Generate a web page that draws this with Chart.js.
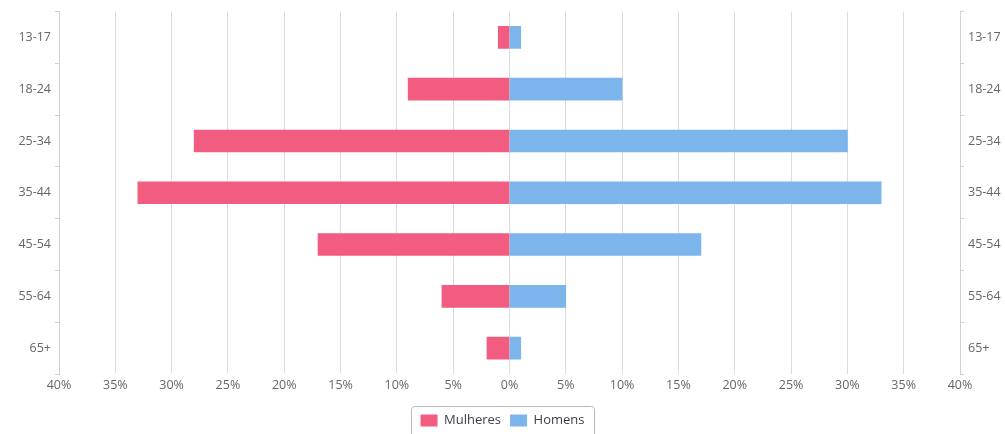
<!DOCTYPE html>
<html>
<head>
<meta charset="utf-8">
<script src="https://cdn.jsdelivr.net/npm/chart.js@4/dist/chart.umd.min.js"></script>
<style>
html,body{margin:0;padding:0;background:#fff;}
#wrap{width:1005px;height:434px;position:relative;}
</style>
</head>
<body>
<div id="wrap"><canvas id="c"></canvas></div>
<script>
const categories = ['13-17','18-24','25-34','35-44','45-54','55-64','65+'];
const mulheres = [1, 9, 28, 33, 17, 6, 2];
const homens = [1, 10, 30, 33, 17, 5, 1];
const xTicks = [-40,-35,-30,-25,-20,-15,-10,-5,0,5,10,15,20,25,30,35,40];

const FONT = {family: "'Open Sans', 'DejaVu Sans', sans-serif", size: 12.5};

const legendBorder = {
  id: 'legendBorder',
  afterDraw(chart) {
    const boxes = chart.legend && chart.legend.legendHitBoxes;
    if (!boxes || !boxes.length) return;
    let l = Infinity, r = -Infinity, t = Infinity, b = -Infinity;
    boxes.forEach(h => { l = Math.min(l, h.left); r = Math.max(r, h.left + h.width); t = Math.min(t, h.top); b = Math.max(b, h.top + h.height); });
    const ctx = chart.ctx;
    ctx.save();
    ctx.strokeStyle = '#b8b8b8';
    ctx.lineWidth = 1;
    const x = Math.round(l - 10) + 0.5, y = Math.round(t - 8) + 0.5;
    const w = Math.round(r - l + 19), hh = Math.round(b - t + 18);
    ctx.beginPath();
    ctx.roundRect(x, y, w, hh, 3);
    ctx.stroke();
    ctx.restore();
  }
};

new Chart(document.getElementById('c'), {
  type: 'bar',
  data: {
    labels: categories,
    datasets: [
      {label: 'Mulheres', data: mulheres.map(v => -v), backgroundColor: '#f15c80', borderWidth: 0, barThickness: 22},
      {label: 'Homens', data: homens, backgroundColor: '#7cb5ec', borderWidth: 0, barThickness: 22}
    ]
  },
  plugins: [legendBorder],
  options: {
    indexAxis: 'y',
    responsive: true,
    maintainAspectRatio: false,
    animation: false,
    layout: {padding: {top: 10, bottom: -3, left: 0, right: 0}},
    scales: {
      x: {
        stacked: true,
        min: -40, max: 40,
        afterBuildTicks: s => { s.ticks = xTicks.map(v => ({value: v})); },
        ticks: {font: FONT, color: '#666', padding: 4, callback: v => Math.abs(v) + '%', maxRotation: 0, autoSkip: false},
        grid: {color: '#dcdcdc', tickLength: 0, lineWidth: 1},
        border: {display: false},
        afterFit: s => { s.height = 31; }
      },
      y: {
        stacked: true,
        position: 'left',
        ticks: {font: FONT, color: '#666', padding: 4},
        grid: {offset: true, drawOnChartArea: false, tickLength: 4, color: '#d0d0d0'},
        border: {display: true, color: '#d0d0d0'},
        afterFit: s => { s.width = 59; }
      },
      y2: {
        type: 'category',
        labels: categories,
        position: 'right',
        offset: true,
        ticks: {font: FONT, color: '#666', padding: 4},
        grid: {offset: true, drawOnChartArea: false, tickLength: 4, color: '#d0d0d0'},
        border: {display: true, color: '#d0d0d0'},
        afterFit: s => { s.width = 45; }
      }
    },
    plugins: {
      legend: {
        position: 'bottom',
        labels: {font: {family: "'Open Sans', sans-serif", size: 13}, color: '#3a3f4a', boxWidth: 17, boxHeight: 12, padding: 9}
      },
      tooltip: {enabled: false}
    }
  }
});
</script>
</body>
</html>
